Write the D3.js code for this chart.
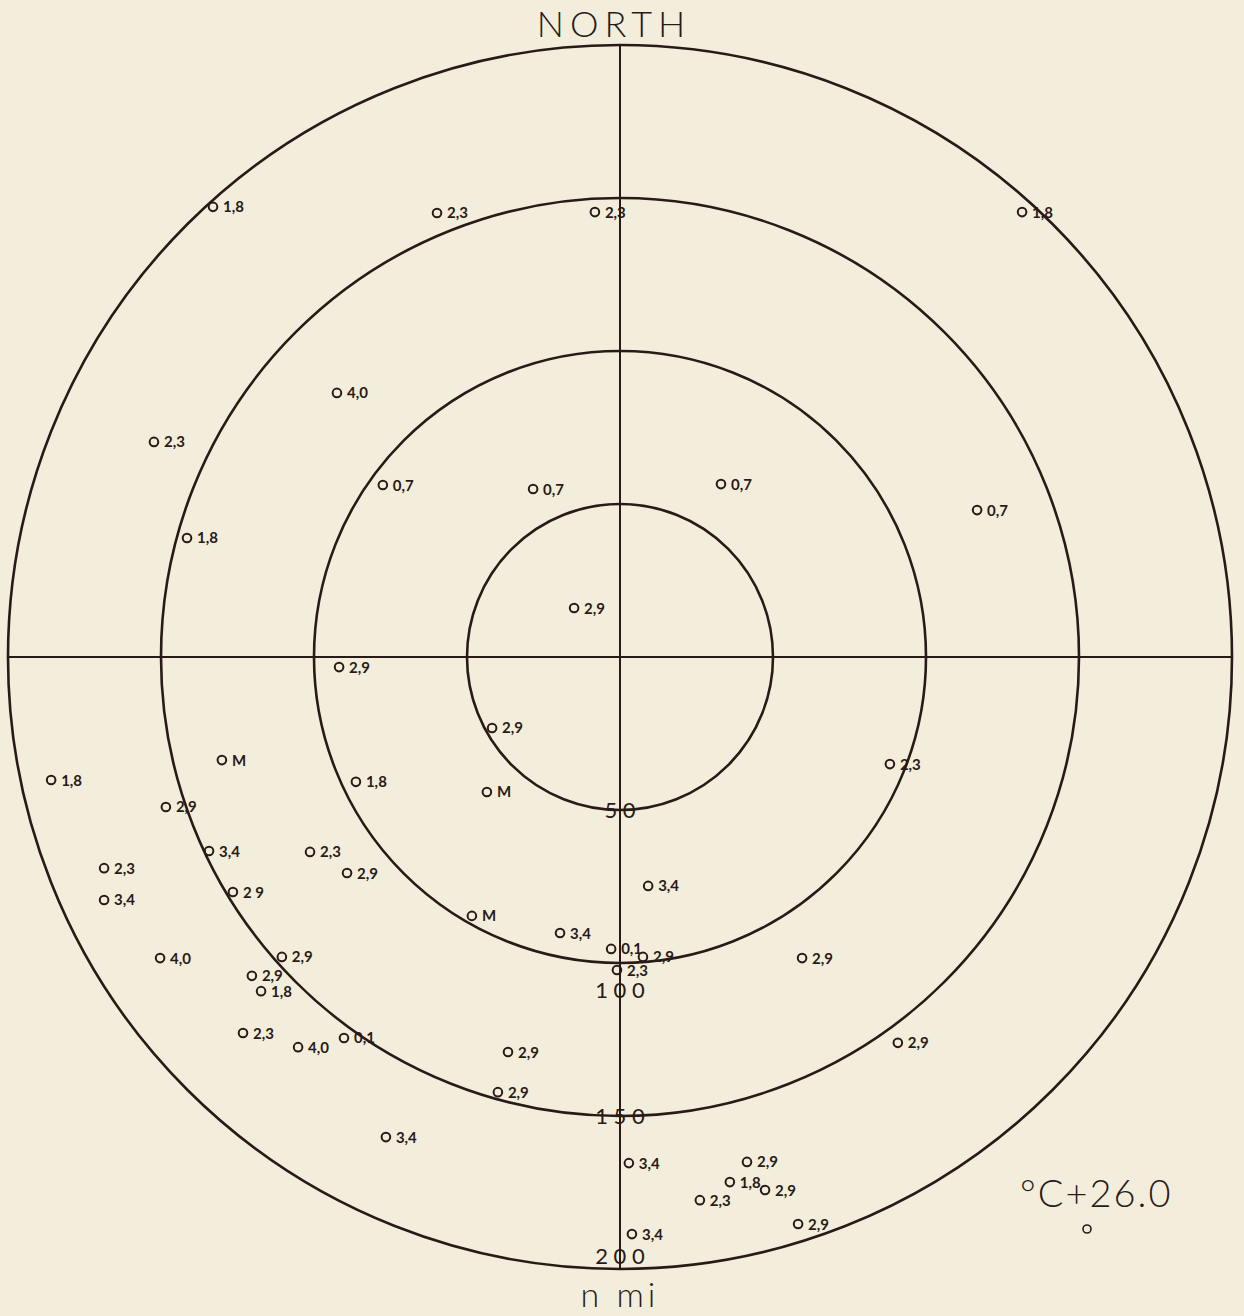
<!DOCTYPE html>
<html>
<head>
<meta charset="utf-8">
<script src="https://cdn.jsdelivr.net/npm/d3@7/dist/d3.min.js"></script>
<style>
  html, body { margin: 0; padding: 0; background: #f2eedb; }
  svg { display: block; }
  .lbl { font-family: Lato, "DejaVu Sans", sans-serif; font-weight: 700; font-size: 15px; fill: #2a1a17; }
  .big { font-family: Lato, "DejaVu Sans", sans-serif; font-weight: 300; fill: #2a1a17; }
</style>
</head>
<body>
<div id="chart"></div>
<script>
// range rings, nmi
var rings = [50, 100, 150, 200];
var ringLabels = ['5 0', '1 0 0', '1 5 0', '2 0 0'];

// stations: offset from centre in nmi (east +, north +) and plotted value
var east  = [-133.0, -59.8, -8.2, 131.4, -92.5, -152.3, -141.5, -77.5, -28.4, 33.0,
             116.7, -15.0, -91.8, -41.8, -86.3, -43.5, -130.1, -185.9, -148.4, -134.3,
             -168.6, -168.6, -126.5, -101.3, -89.2, -48.4, -19.6, 9.2, -2.9, 7.5,
             -1.0, 88.2, 59.5, 90.8, -150.3, -110.5, -120.3, -117.3, -123.2, -105.2,
             -90.2, -36.6, -39.9, -76.5, 2.9, 41.5, 35.9, 47.4, 26.1, 58.2, 3.9];
var north = [147.1, 145.1, 145.4, 145.4, 86.3, 70.3, 38.9, 56.2, 54.9, 56.5,
             48.0, 16.0, -3.3, -23.2, -40.8, -44.1, -33.7, -40.2, -49.0, -63.4,
             -69.0, -79.4, -76.8, -63.7, -70.6, -84.6, -90.2, -74.8, -95.4, -98.0,
             -102.3, -35.0, -98.4, -126.1, -98.4, -98.0, -104.2, -109.2, -122.9, -127.5,
             -124.5, -129.1, -142.2, -156.9, -165.4, -165.0, -171.6, -174.2, -177.5, -185.3, -188.6];
var values = ['1,8', '2,3', '2,3', '1,8', '4,0', '2,3', '1,8', '0,7', '0,7', '0,7',
              '0,7', '2,9', '2,9', '2,9', '1,8', 'M', 'M', '1,8', '2,9', '3,4',
              '2,3', '3,4', '2 9', '2,3', '2,9', 'M', '3,4', '3,4', '0,1', '2,9',
              '2,3', '2,3', '2,9', '2,9', '4,0', '2,9', '2,9', '1,8', '2,3', '4,0',
              '0,1', '2,9', '2,9', '3,4', '3,4', '2,9', '1,8', '2,9', '2,3', '2,9', '3,4'];

var W = 1244, H = 1316;
var cx = 620, cy = 657, R = 612;

var svg = d3.select('#chart').append('svg')
  .attr('width', W).attr('height', H);

var r = d3.scaleLinear().domain([0, 200]).range([0, R]);
var x = d3.scaleLinear().domain([-200, 200]).range([cx - R, cx + R]);
var y = d3.scaleLinear().domain([-200, 200]).range([cy + R, cy - R]);

var ink = '#2a1a17';

// cross hairs
svg.append('line')
  .attr('x1', x(-200)).attr('x2', x(200)).attr('y1', y(0)).attr('y2', y(0))
  .attr('stroke', ink).attr('stroke-width', 2);
svg.append('line')
  .attr('x1', x(0)).attr('x2', x(0)).attr('y1', y(200)).attr('y2', y(-200))
  .attr('stroke', ink).attr('stroke-width', 2);

// rings
svg.selectAll('circle.ring').data(rings).enter().append('circle')
  .attr('class', 'ring')
  .attr('cx', x(0)).attr('cy', y(0))
  .attr('r', function (d) { return r(d); })
  .attr('fill', 'none').attr('stroke', ink).attr('stroke-width', 2.6);

// ring labels down the south axis
var ringShift = { 100: 27, 200: -13 };
svg.selectAll('text.ring').data(rings).enter().append('text')
  .attr('class', 'big')
  .attr('x', x(0))
  .attr('y', function (d) { return y(-d) + 8 + (ringShift[d] || 0); })
  .attr('text-anchor', 'middle')
  .style('font-size', '22px').style('font-weight', 400)
  .text(function (d, i) { return ringLabels[i]; });

// stations
var pts = east.map(function (e, i) { return { e: e, n: north[i], v: values[i] }; });
var g = svg.selectAll('g.stn').data(pts).enter().append('g')
  .attr('transform', function (d) { return 'translate(' + x(d.e) + ',' + y(d.n) + ')'; });
g.append('circle')
  .attr('r', 4.3).attr('fill', 'none').attr('stroke', ink).attr('stroke-width', 2);
g.append('text')
  .attr('class', 'lbl')
  .attr('x', 10).attr('y', 5.5)
  .text(function (d) { return d.v; });

// titles
svg.append('text').attr('class', 'big')
  .attr('x', 614).attr('y', 37).attr('text-anchor', 'middle')
  .style('font-size', '36px').style('letter-spacing', '6px')
  .text('NORTH');
svg.append('text').attr('class', 'big')
  .attr('x', 620).attr('y', 1307).attr('text-anchor', 'middle')
  .style('font-size', '34px').style('letter-spacing', '4px')
  .text('n mi');
svg.append('text').attr('class', 'big')
  .attr('x', 1020).attr('y', 1207)
  .style('font-size', '38px').style('letter-spacing', '2px')
  .text('°C+26.0');
svg.append('circle')
  .attr('cx', 1087).attr('cy', 1229).attr('r', 4)
  .attr('fill', 'none').attr('stroke', ink).attr('stroke-width', 1.6);
</script>
</body>
</html>
